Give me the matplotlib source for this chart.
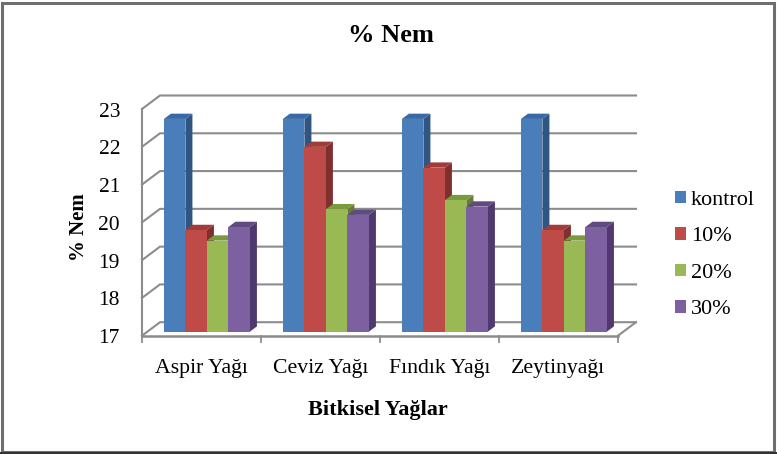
import matplotlib
matplotlib.use("Agg")
import matplotlib.pyplot as plt
from matplotlib.patches import Polygon, Rectangle

categories = ["Aspir Yağı", "Ceviz Yağı", "Fındık Yağı", "Zeytinyağı"]
series = ["kontrol", "10%", "20%", "30%"]
kontrol = [22.63, 22.63, 22.63, 22.63]
p10 = [19.69, 21.89, 21.34, 19.69]
p20 = [19.41, 20.24, 20.48, 19.41]
p30 = [19.77, 20.09, 20.31, 19.77]
values = [kontrol, p10, p20, p30]
yticks = [17, 18, 19, 20, 21, 22, 23]
front_colors = ["#4A7EBB", "#BE4B48", "#98B954", "#7D60A0"]
side_colors = ["#2F5582", "#7F2F2D", "#657C36", "#50396E"]
top_colors = ["#3A6AA5", "#A03D3A", "#7A9A3E", "#5F4A82"]

W, H = 777, 454
plt.rcParams["font.family"] = ["Liberation Serif", "DejaVu Serif"]
fig = plt.figure(figsize=(W / 100, H / 100), dpi=100, facecolor="white")

# outer frame: grey top/left, darker bottom/right
fig.add_artist(Rectangle((1.5 / W, 1 - 452 / H), 772 / W, 449.5 / H, transform=fig.transFigure,
                         fill=False, edgecolor="#6E6E6E", linewidth=2.2))
fig.add_artist(Rectangle((0, 0), 1, 2.5 / H, transform=fig.transFigure, facecolor="#333333", edgecolor="none"))

# axes = front plane of the 3D box
L, R, T, B = 142, 618, 109, 335.7
ax = fig.add_axes([L / W, 1 - B / H, (R - L) / W, (B - T) / H])
ax.set_xlim(0, 4)
ax.set_ylim(17, 23)
ax.axis("off")

px_x = 4 / (R - L)
px_y = 6 / (B - T)
DEPTH_X, DEPTH_Y = 18 * px_x, 13.5 * px_y


def proj(x, y, d):
    return (x + d * DEPTH_X, y + d * DEPTH_Y)


grid = "#8C8C8C"
for t in yticks:
    xs = [proj(0, t, 0), proj(0, t, 1), proj(4, t, 1)]
    ax.plot(*zip(*xs), color=grid, lw=1.5, clip_on=False, zorder=1, solid_joinstyle="miter")
    ax.text(-22 * px_x, t - 3 * px_y, str(t), ha="right", va="center", fontsize=15.5, clip_on=False)
ax.plot(*zip(proj(4, 17, 0), proj(4, 17, 1)), color=grid, lw=1.5, clip_on=False, zorder=1)
ax.plot([0, 0], [17, 23], color=grid, lw=1.5, clip_on=False, zorder=2)
ax.plot([0, 4], [17, 17], color=grid, lw=1.8, clip_on=False, zorder=2)
for i in range(5):
    ax.plot([i, i], [17, 17 - 6 * px_y], color=grid, lw=1.3, clip_on=False, zorder=2)

bar_w = 0.1807
margin = 0.1386
d0, d1 = 0.30, 0.69
z = 3
for c in range(4):
    for s in range(4):
        v = values[s][c]
        x0 = c + margin + s * bar_w
        x1 = x0 + bar_w
        side = [proj(x1, 17, d0), proj(x1, 17, d1), proj(x1, v, d1), proj(x1, v, d0)]
        top = [proj(x0, v, d0), proj(x1, v, d0), proj(x1, v, d1), proj(x0, v, d1)]
        front = [proj(x0, 17, d0), proj(x1, 17, d0), proj(x1, v, d0), proj(x0, v, d0)]
        for pts, col in ((side, side_colors[s]), (top, top_colors[s]), (front, front_colors[s])):
            ax.add_patch(Polygon(pts, closed=True, facecolor=col, edgecolor="none",
                                 clip_on=False, zorder=z))
        z += 1

for i, cat in enumerate(categories):
    ax.text(i + 0.5, 17 - 33 * px_y, cat, ha="center", va="center", fontsize=15.7, clip_on=False)

fig.text(391 / W, 1 - 36 / H, "% Nem", ha="center", va="center", fontsize=19, fontweight="bold")
fig.text(378 / W, 1 - 410 / H, "Bitkisel Yağlar", ha="center", va="center", fontsize=16, fontweight="bold")
fig.text(79 / W, 1 - 227 / H, "% Nem", ha="center", va="center", rotation=90, fontsize=15, fontweight="bold")

# legend
handles = [Rectangle((0, 0), 1, 1, facecolor=c, edgecolor="none") for c in front_colors]
fig.legend(handles, series, loc="center left", bbox_to_anchor=(675 / W, 1 - 255 / H),
           frameon=False, fontsize=16, handlelength=0.5, handleheight=0.5, handletextpad=0.22,
           labelspacing=0.78, borderpad=0, borderaxespad=0)

fig.savefig("out.png", dpi=100, facecolor="white")
